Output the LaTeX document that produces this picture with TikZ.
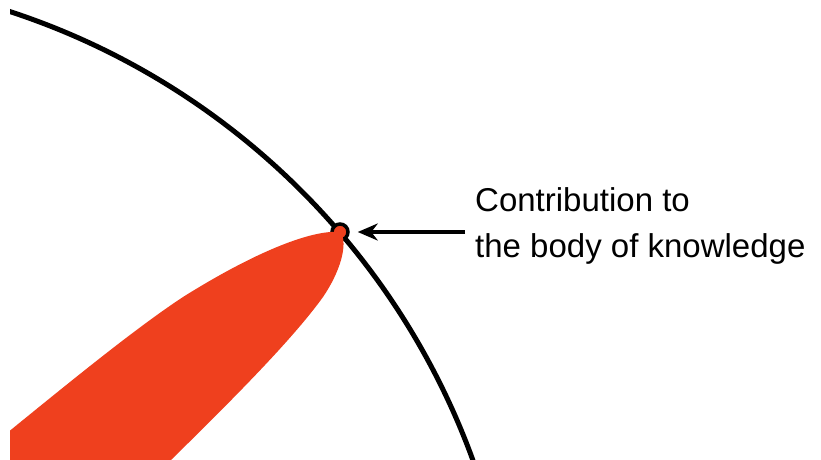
\documentclass[tikz,border=0pt]{standalone}
\usepackage{fontspec}
\setmainfont{Liberation Sans}
\usetikzlibrary{arrows.meta,calc}
\definecolor{leaf}{RGB}{239,64,30}
\tikzset{
  ring/.style={line width=5pt, draw=black},
  lbl/.style={align=left, inner sep=0pt, anchor=west, font=\fontsize{33}{46}\selectfont},
  arr/.style={line width=3.5pt, -{Stealth[length=20pt,width=17pt]}},
}
\begin{document}
\begin{tikzpicture}[x=1pt,y=-1pt]
\useasboundingbox (0,0) rectangle (821,459);
\fill[white] (0,0) rectangle (821,459);
\begin{scope}
\clip (10,0) rectangle (821,459);
\draw[ring] (-219.2,711.2) circle[radius=736pt];
\node[circle, draw=black, line width=3.5pt, fill=leaf, minimum size=16pt, inner sep=0pt] (tip) at (340,232) {};
\fill[leaf] (341,232) .. controls (310,229) and (250,255) .. (183,297)
  .. controls (130,332) and (60,390) .. (-20,455) -- (-20,500) -- (130,500)
  -- (172,459) .. controls (232,400) and (292,340) .. (323,297)
  .. controls (340,272) and (348,245) .. (341,232) -- cycle;
\end{scope}
\node[lbl] (label) at (475,226) {Contribution to\\the body of knowledge};
\draw[arr] (label.west |- tip.east) ++(-10,0) coordinate (s) -- ([xshift=8pt]tip.east);
\end{tikzpicture}
\end{document}
